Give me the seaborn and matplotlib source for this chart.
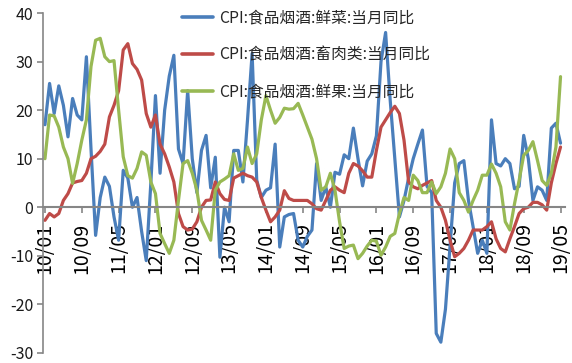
import numpy as np
import pandas as pd
import matplotlib
matplotlib.use("Agg")
import matplotlib.pyplot as plt
import seaborn as sns

# monthly data 2010/01 - 2019/05
start_month = "2010-01"

veg = [17, 25.5, 19.3, 25, 21, 14.5, 22.4, 19, 18, 31,
       12, -5.8, 2, 6.2, 4.3, -2, -6.8, 7.6, 6, 0,
       2, -5, -11, 5, 23, 7, 20, 27, 31.3, 12,
       9, 24, 10, 3, 11.7, 14.8, 4, 10.3, -10.3, 0,
       -3, 11.7, 11.7, 5.2, 18, 31.7, 5.6, 2, 3.5, 4,
       13, -8.2, -2, -1.5, -1.3, -6.8, -8.2, -6, -4.7, 9,
       1.4, 4.2, 0, 7.2, 6.8, 10.8, 10, 16.3, 10, 4.4,
       9.5, 11, 14.7, 30, 36, 22, 10, -2, 1.4, 6,
       10, 13, 15.9, 4.3, 3, -26, -27.8, -21, -8, 5,
       9, 9.6, 1.4, -4, -9.5, -6.8, -9.5, 18, 9, 8.5,
       10, 9, 3.8, 4.3, 14.8, 10, 1.4, 4.2, 3.5, 1.4,
       16.3, 17.3, 13.2]

meat = [-2.7, -1.3, -2, -1.3, 1.4, 2.8, 5, 5.3, 5.5, 7,
        10, 10.5, 11.5, 13, 18.6, 21, 24, 32.4, 33.7, 29.6,
        28.4, 26.2, 19.3, 16.5, 19, 13, 11, 8.3, 5.2, -1.3,
        -4, -4.7, -4.5, -3, 0, 1.4, 1.5, 5.2, 2.8, 1.6,
        1.4, 6, 6.5, 7, 6.5, 6.2, 5.2, 2, -0.6, -3,
        -2, -0.6, 3.4, 1.8, 1.4, 1.4, 1.4, 1.4, 0.7, -0.3,
        -0.6, 1.4, 3.5, 4.2, 3.5, 3, 7, 9, 8.5, 7.5,
        6.2, 6.2, 11.7, 16.5, 18, 19.5, 20.8, 19.3, 13.8, 5.2,
        4.2, 3.8, 4.5, 5, 5.5, 1.4, 0, -2.7, -6.8, -10.2,
        -9.5, -8.5, -6.8, -4.7, -4.7, -4.7, -4, -3, -6.5, -8.5,
        -9.2, -6.5, -4, -1.3, -0.3, 0, 1, 1, 0.5, -0.6,
        5, 9, 12.4]

fruit = [10, 19, 18.8, 16.5, 12.4, 10, 4.9, 9, 13.8, 18,
         29, 34.4, 34.8, 31, 30, 30.2, 20, 10.4, 6.5, 6,
         8, 11.4, 10.7, 5.2, 2.8, -5.4, -7.5, -9.5, -6.8, 1.4,
         9, 9.6, 7, 3.5, -2.7, -4.7, -6.8, 3.5, 5.2, 5.8,
         6.5, 11, 7.6, 8, 12.4, 9, 11, 18, 23, 20,
         17.3, 18.5, 20.4, 20.2, 20.3, 21.4, 19, 16.5, 14, 10,
         3.5, 4.2, 7, 3.5, -3, -8.5, -8, -7.8, -10.6, -9.5,
         -8, -6.8, -7, -9.9, -8.2, -6, -5.4, -1.3, 2, 1.4,
         6.6, 5.5, 3, 3, 5.2, 2.8, 4.2, 7, 12, 10,
         3, 1.4, -1, 1.4, 3.5, 6.6, 6.6, 8.9, 7, 4.2,
         -3, -4.7, 0.7, 5.5, 10.7, 11.7, 13.5, 9.6, 5.5, 4.5,
         7, 12.4, 26.9]

series_names = ["CPI:食品烟酒:鲜菜:当月同比",
                "CPI:食品烟酒:畜肉类:当月同比",
                "CPI:食品烟酒:鲜果:当月同比"]
colors = ["#4A7EBB", "#BE4B48", "#98B954"]

tick_labels = ["10/01", "10/09", "11/05", "12/01", "12/09", "13/05", "14/01", "14/09",
               "15/05", "16/01", "16/09", "17/05", "18/01", "18/09", "19/05"]
y_ticks = [-30, -20, -10, 0, 10, 20, 30, 40]

months = pd.period_range(start_month, periods=len(veg), freq="M")
idx = np.arange(len(months))
df = pd.concat([
    pd.DataFrame({"idx": idx, "value": vals, "series": name})
    for name, vals in zip(series_names, [veg, meat, fruit])
])

sns.set_style("white")
plt.rcParams["font.family"] = ["Noto Sans CJK SC", "DejaVu Sans"]
plt.rcParams["axes.unicode_minus"] = False

fig = plt.figure(figsize=(5.72, 3.63), dpi=100)
ax = fig.add_axes([0.075, 0.028, 0.913, 0.936])

sns.lineplot(data=df, x="idx", y="value", hue="series", hue_order=series_names,
             palette=dict(zip(series_names, colors)), linewidth=2.3, ax=ax)

gray = "#868686"
ax.set_xlim(-0.45, 113)
ax.set_ylim(-30, 40)
ax.set_yticks(y_ticks)
ax.set_xticks(idx[::8])
ax.set_xticklabels(tick_labels)
ax.set_xlabel("")
ax.set_ylabel("")

for s in ["top", "right"]:
    ax.spines[s].set_visible(False)
ax.spines["left"].set_color(gray)
ax.spines["left"].set_linewidth(1.2)
ax.spines["bottom"].set_position(("data", 0))
ax.spines["bottom"].set_color(gray)
ax.spines["bottom"].set_linewidth(1.5)
ax.tick_params(axis="y", direction="out", length=4, color=gray, width=1.2,
               labelsize=11.5, pad=3, left=True, labelcolor="#1a1a1a")
ax.tick_params(axis="x", direction="out", length=4, color=gray, width=1.2,
               pad=7, bottom=True, labelsize=14, labelrotation=90, labelcolor="#000000")

handles, labels = ax.get_legend_handles_labels()
leg = ax.legend(handles, labels, loc="upper left", bbox_to_anchor=(182 / 572, 1 - 9 / 363),
                bbox_transform=fig.transFigure, frameon=False, fontsize=11.3,
                handlelength=2.0, handletextpad=0.35, labelspacing=1.28,
                borderpad=0, borderaxespad=0)
for h in leg.get_lines():
    h.set_linewidth(2.6)
for t in leg.get_texts():
    t.set_color("#262626")

fig.savefig("out.png", dpi=100)
